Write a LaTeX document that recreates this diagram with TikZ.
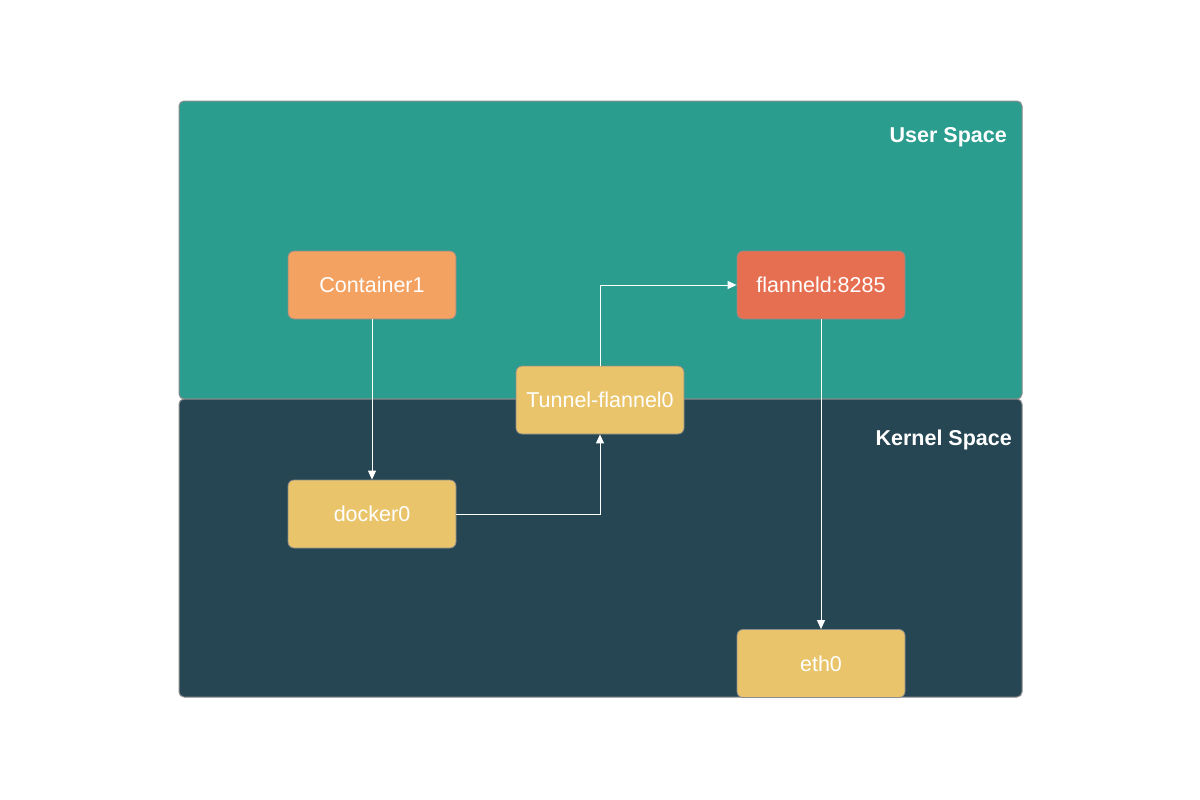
\documentclass[tikz,border=0pt]{standalone}
\usepackage{fontspec}
\setmainfont{Liberation Sans}
\usetikzlibrary{arrows.meta}
\definecolor{teal1}{HTML}{2A9D8F}
\definecolor{dark1}{HTML}{264653}
\definecolor{yel1}{HTML}{E9C46A}
\definecolor{ora1}{HTML}{F4A261}
\definecolor{red1}{HTML}{E76F51}
\definecolor{bord}{HTML}{8C8C8C}
\tikzset{
  region/.style={draw=bord, line width=1pt, rounded corners=5pt},
  box/.style={draw=bord, line width=0.8pt, rounded corners=6pt, minimum width=168pt, minimum height=68pt, inner sep=0pt, text=white, font=\fontsize{21.5}{24}\selectfont},
  conn/.style={draw=white, line width=1pt, -{Triangle[length=9pt,width=8pt]}},
  spacelbl/.style={text=white, font=\fontsize{21.5}{24}\selectfont\bfseries, anchor=east, inner sep=0pt}
}
\begin{document}
\begin{tikzpicture}[x=1pt,y=-1pt]
\useasboundingbox (0,0) rectangle (1200,800);
\fill[white] (0,0) rectangle (1200,800);
\path[region, fill=teal1] (179,101) rectangle (1022,399);
\path[region, fill=dark1] (179,399) rectangle (1022,697);
\node[spacelbl] (us) at (1007,137.5) {User Space};
\node[spacelbl] (ks) at (1012,439.5) {Kernel Space};
\node[box, fill=ora1] (c1) at (372,285) {Container1};
\node[box, fill=red1] (fl) at (821,285) {flanneld:8285};
\node[box, fill=yel1] (tun) at (600,400) {Tunnel-flannel0};
\node[box, fill=yel1] (dk) at (372,514) {docker0};
\node[box, fill=yel1] (eth) at (821,663.5) {eth0};
\draw[conn] (c1.south) -- (dk.north);
\draw[conn] (dk.east) -| (tun.south);
\draw[conn] (tun.north) |- (fl.west);
\draw[conn] (fl.south) -- (eth.north);
\end{tikzpicture}
\end{document}
